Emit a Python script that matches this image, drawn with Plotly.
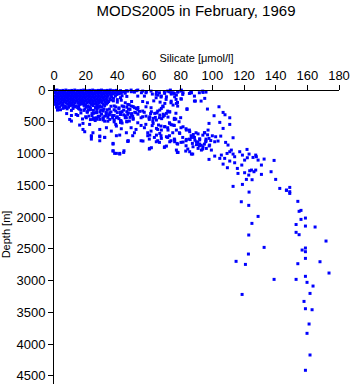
import plotly.graph_objects as go

# ---- Data (Silicate [umol/l], Depth [m]) ----
# Surface block (0-320 m)
surf_sil = [0.3, 1.9, 3.8, 5.6, 7.5, 9.4, 11.2, 13.1, 15.0, 16.9, 18.7, 20.6, 22.5, 24.4, 26.2, 28.1, 30.0, 31.9, 33.7, 35.6, 37.5, 39.4,
            0.8, 2.7, 4.6, 6.5, 8.4, 10.3, 12.1, 14.0, 15.9, 17.8, 19.6, 21.5, 23.4, 25.3, 27.1, 29.0, 30.9, 32.8, 34.6, 36.5, 38.4, 40.3, 42.5,
            0.4, 2.3, 4.2, 6.1, 7.9, 9.8, 11.7, 13.6, 15.4, 17.3, 19.2, 21.1, 22.9, 24.8, 26.7, 28.6, 30.4, 32.3, 34.2, 36.1, 38.8,
            0.9, 2.8, 4.7, 6.6, 8.5, 10.4, 12.2, 14.1, 16.0, 17.9, 19.7, 21.6, 23.5, 25.4, 27.2, 29.1, 31.0, 32.9, 35.3, 37.6,
            0.5, 2.4, 4.3, 6.2, 8.0, 9.9, 11.8, 13.7, 15.5, 17.4, 19.3, 21.2, 23.0, 24.9, 26.8, 28.7, 30.5, 32.4, 34.5,
            1.0, 2.9, 4.8, 8.6, 10.5, 12.3, 16.2, 18.0, 19.9, 23.7, 25.5, 27.4, 31.2, 33.1,
            1.6, 3.5, 7.3, 9.2, 13.0, 14.9, 20.5, 22.4, 26.2, 28.1, 30.0,
            2.2, 4.1, 11.0, 17.0, 21.8, 24.9, 29.5, 33.5]
surf_dep = [5, 0, 10, 5, 0, 10, 5, 0, 10, 5, 0, 10, 5, 0, 10, 5, 0, 10, 5, 0, 10, 5,
            40, 50, 45, 40, 50, 45, 40, 50, 45, 40, 50, 45, 40, 50, 45, 40, 50, 45, 40, 50, 45, 40, 50,
            90, 85, 95, 90, 85, 95, 90, 85, 95, 90, 85, 95, 90, 85, 95, 90, 85, 95, 90, 85, 95,
            135, 130, 140, 135, 130, 140, 135, 130, 140, 135, 130, 140, 135, 130, 140, 135, 130, 140, 135, 130,
            180, 175, 185, 180, 175, 185, 180, 175, 185, 180, 175, 185, 180, 175, 185, 180, 175, 185, 180,
            225, 220, 230, 225, 220, 230, 225, 220, 230, 225, 220, 230, 225, 220,
            270, 265, 275, 270, 265, 275, 270, 265, 275, 270, 265,
            315, 310, 320, 315, 310, 320, 315, 310]

# Surface block, intermediate depths
surf2_sil = [1.2, 3.1, 5.0, 6.9, 8.8, 10.7, 12.6, 14.5, 16.3, 18.2, 20.1, 22.0, 23.9, 25.8, 27.6, 29.5, 31.4, 33.3, 35.2, 37.1, 41.5, 44.0,
             1.6, 3.5, 5.4, 7.3, 9.2, 11.1, 13.0, 14.8, 16.7, 18.6, 20.5, 22.4, 24.3, 26.1, 28.0, 29.9, 31.8, 33.7, 35.6, 37.5, 39.6,
             1.4, 3.3, 5.2, 7.1, 9.0, 10.9, 12.8, 14.7, 16.6, 18.5, 20.4, 22.3, 24.1, 26.0, 27.9, 29.8, 31.7, 33.6, 36.4,
             1.2, 3.1, 5.0, 6.9, 8.8, 10.7, 12.6, 14.5, 16.4, 18.3, 20.2, 22.1, 24.0, 25.9, 27.8, 29.7, 31.6, 33.5, 36.0,
             1.8, 3.7, 5.6, 7.5, 9.4, 11.3, 13.2, 15.1, 17.0, 18.9, 20.8, 22.7, 24.6, 26.5, 28.4, 30.3, 33.8,
             2.0, 5.5, 7.0, 9.8, 11.7, 14.0, 15.6, 19.0, 21.5, 24.5, 27.0, 29.0, 32.0,
             2.5, 5.8, 8.3, 12.0, 15.5, 19.5, 23.0, 27.3, 31.5]
surf2_dep = [22, 20, 25, 22, 20, 25, 22, 20, 25, 22, 20, 25, 22, 20, 25, 22, 20, 25, 22, 20, 25, 22,
             65, 62, 68, 65, 62, 68, 65, 62, 68, 65, 62, 68, 65, 62, 68, 65, 62, 68, 65, 62, 68,
             110, 108, 114, 110, 108, 114, 110, 108, 114, 110, 108, 114, 110, 108, 114, 110, 108, 114, 110,
             155, 152, 158, 155, 152, 158, 155, 152, 158, 155, 152, 158, 155, 152, 158, 155, 152, 158, 155,
             200, 198, 204, 200, 198, 204, 200, 198, 204, 200, 198, 204, 200, 198, 204, 200, 198,
             245, 242, 250, 245, 242, 250, 245, 242, 250, 245, 242, 250, 245,
             290, 288, 295, 290, 288, 295, 290, 288, 295]

# Shallow, 35-60 umol/l
mid_sil = [40, 42, 44, 41, 43, 45, 42, 46, 40,
           45.7, 48.9, 52, 55.2, 58.3,
           37.5, 40, 42.5, 45, 47.5, 49, 38, 41, 44, 47, 39, 42, 46, 49, 37, 40, 44, 48, 38, 42, 46, 50, 43, 39]
mid_dep = [20, 10, 30, 60, 90, 50, 120, 100, 150,
           10, 26, 10, 42, 26,
           170, 190, 160, 200, 230, 180, 250, 280, 260, 300, 330, 350, 340, 370, 400, 420, 390, 430, 470, 480, 500, 460, 520, 540]

# Dense mass 15-55 umol/l, 250-560 m
mass_sil = [36, 39, 43, 46, 50, 53, 35, 38, 41, 44, 48, 52, 36, 40, 43, 47, 51, 54, 35, 38, 42, 45, 49, 53,
            37, 41, 45, 50, 34, 38, 42, 46,
            16, 19, 23, 27, 31, 17, 21, 25, 29, 33, 15, 20, 24, 28, 32, 18, 23, 27, 31]
mass_dep = [255, 265, 250, 270, 260, 275, 300, 310, 295, 315, 305, 290, 345, 355, 340, 360, 350, 335, 390, 400, 385, 405, 395, 380,
            440, 450, 435, 445, 490, 500, 510, 495,
            300, 320, 310, 305, 315, 360, 350, 365, 345, 355, 400, 420, 405, 415, 410, 455, 465, 460, 470]

# 55-80 umol/l, 170-580 m
mass2_sil = [56, 59, 63, 67, 70, 74, 78, 57, 61, 65, 69, 73, 77, 56, 60, 64, 68, 72, 76, 80, 58, 62, 66, 70, 74]
mass2_dep = [180, 200, 170, 190, 210, 175, 195, 350, 370, 360, 380, 345, 365, 420, 440, 430, 450, 425, 445, 435, 540, 560, 550, 575, 545]

# 300-700 m, low silicate
low_sil = [21, 24, 27, 30, 33, 22, 25, 28, 31, 34, 26, 32, 8, 11, 14,
           9.9, 11, 18.3, 18.3, 24.6, 24.6, 26.8, 28.9, 31, 33.1, 35.2, 39.4, 42.5, 45.7, 28.9,
           33.1, 36.2, 39.4, 42.5, 45.7, 28.9, 22.5, 20.4, 35.2, 31, 26.8]
low_dep = [340, 370, 350, 380, 360, 410, 440, 420, 450, 430, 480, 490, 370, 400, 385,
           462, 488, 525, 620, 672, 462, 436, 410, 436, 399, 462, 436, 488, 436, 620,
           593, 646, 567, 609, 672, 462, 541, 436, 357, 331, 357]

# 550-1010 m, low/mid silicate
lm_sil = [16.2, 19.4, 23.6, 28.9, 32, 37.3, 46.8, 56.2, 60.4, 64.6, 71, 76.2, 77.3, 78.3, 37.3, 38.3, 41.5, 44.2,
          23.6, 23.6, 28.9, 32, 28.9, 37.3, 39.4, 41.5, 46.8, 37.3, 39.4, 41.5, 44]
lm_dep = [551, 656, 735, 724, 745, 840, 803, 803, 919, 814, 882, 814, 945, 982, 961, 997, 1008, 956,
          719, 772, 735, 746, 798, 851, 719, 709, 798, 955, 997, 997, 982]

# 45-100 umol/l, 0-700 m
z6_sil = [46.6, 48.7, 50.8, 52.9, 56, 58.1, 61.3, 64.5, 66.6, 69.7, 71.8, 73.9, 76, 78.1, 80.2, 81.3, 85.5, 86.6, 88.7, 91.8, 93.9, 96,
          52.9, 57.1, 64.5, 67.6, 70.8, 73.9, 77.1, 80.2, 88.7, 92.9,
          46.6, 48.7, 50.8, 52.9, 56, 58.1, 61.3, 65.5, 68.7, 71.8, 78.1, 84,
          46.6, 49.7, 51.8, 55, 58.1, 60.2, 62.4, 66.6, 69.7, 76, 72.9, 47.6, 52.9,
          48.7, 51.8, 55, 57.1, 61.3, 65.5, 67.6, 71.8, 76, 80.2, 83.4, 85.5, 89.7, 95, 79.2, 75, 59.2, 50.8]
z6_dep = [16, 0, 32, 0, 16, 42, 16, 68, 42, 32, 16, 42, 53, 32, 16, 68, 53, 42, 95, 42, 16, 32,
          95, 95, 121, 110, 147, 200, 147, 137, 173, 173,
          226, 252, 278, 305, 331, 263, 278, 331, 252, 331, 252, 294,
          383, 410, 357, 436, 410, 462, 488, 436, 399, 462, 515, 488, 515,
          593, 620, 557, 593, 646, 620, 567, 593, 557, 593, 609, 630, 672, 672, 672, 672, 672, 672]

# 45-100 umol/l, 700-1010 m
z8_sil = [49.7, 55, 59.2, 60.2, 63.4, 65.5, 67.6, 66.6, 71.8, 73.9, 72.9, 76, 78.1, 80.2, 81.3, 83.4,
          85.5, 86.6, 88.7, 90.8, 91.8, 93.9, 95, 96, 83.4, 84.5, 78.1, 87.6, 69.7, 60.2, 46.6,
          88, 91, 94, 97, 100, 86, 89, 92, 96, 99, 90, 93, 98]
z8_dep = [719, 798, 719, 772, 746, 798, 719, 824, 746, 798, 719, 772, 851, 824, 746, 798,
          772, 719, 746, 824, 877, 929, 851, 772, 877, 929, 982, 1008, 903, 929, 809,
          700, 690, 710, 705, 720, 780, 790, 785, 800, 795, 860, 870, 880]

# 60-115 umol/l, 0-1000 m
c_top_sil = [62.1, 64.7, 65.7, 67.8, 69.9, 71, 72.7, 74.1, 75.2, 76.2, 77.3, 73.5, 78.3, 80.4, 81.5, 86.4, 86.8, 94.1, 95.2, 89.3,
             80.4, 77.3, 75.2, 68.9, 67.8, 66.8]
c_top_dep = [63, 26, 79, 94, 52, 105, 26, 63, 42, 105, 79, 0, 26, 0, 42, 26, 42, 37, 131, 173,
             142, 210, 236, 263, 289, 315]
c_right_sil = [104.2, 84, 96.9, 106.8, 101.1, 108, 111, 104.7, 111, 106.8, 97.9]
c_right_dep = [263, 305, 299, 352, 404, 389, 436, 509, 541, 604, 525]
c_left_sil = [61.5, 63.6, 60.5, 62.6, 64.7, 66.8, 68.9, 71, 73.1, 76.9, 79, 73.1, 75.2, 69.9, 72, 67.8, 64.7, 62.6,
              81.5, 83.6, 85.7, 77.3, 79.4, 66.8]
c_left_dep = [341, 367, 420, 446, 472, 394, 420, 367, 341, 457, 499, 525, 551, 578, 630, 630, 604, 525,
              578, 630, 656, 630, 683, 683]
c_mid_sil = [95.2, 97.3, 102.1, 105.3, 113.1, 101.5, 108.4, 109.9, 103.6, 97.9, 95.8, 92]
c_mid_dep = [672, 630, 735, 725, 751, 814, 824, 866, 803, 761, 814, 767]
c_band_sil = [60.5, 64.7, 67.8, 71, 73.1, 76.2, 77.7, 81.5, 83.6, 86.8, 87.4, 89.9, 92, 94.1, 96.2, 98.3, 99.4, 93.1,
              91, 87.8, 85.7, 83.2, 77.9, 69.9, 61.5]
c_band_dep = [709, 709, 761, 735, 814, 787, 840, 819, 777, 746, 840, 814, 851, 893, 919, 866, 945, 945,
              919, 893, 971, 961, 982, 893, 908]

# 1000-1650 m
k_sil = [86.8, 97.9, 101.5, 104.7, 105.7, 107.8, 109.3, 111, 112, 113.1, 114.1, 117.3, 119, 121.9, 123.2,
         106.8, 109.5, 111, 114.1, 115.8, 118.6, 120.4, 122.1, 125.7, 127.4, 127.8, 128.9, 131, 132.7, 139,
         116.2, 120.4, 123, 123.6, 124.7, 126.3, 127.4, 131, 137.1, 140, 121.5, 125.1, 113.1, 119, 123.2,
         142.6, 148.9, 146.8, 148.9, 146.8, 148.9]
k_dep = [1008, 1092, 1040, 1076, 1024, 1076, 998, 971, 945, 1008, 1050, 971, 1024, 935, 1008,
         1166, 1223, 1118, 1145, 1234, 1181, 1103, 1066, 1061, 1024, 1050, 1103, 1181, 1087, 1108,
         1313, 1302, 1339, 1271, 1260, 1286, 1260, 1328, 1286, 1407, 1407, 1412, 1517, 1486, 1607,
         1549, 1533, 1575, 1628, 1580, 1601]

# Deep water (> 1700 m)
deep_sil = [118.3, 123, 154, 156, 154.8, 128.9, 158.8, 156, 125, 152.9, 158.8, 164.9, 123, 152.9, 154.8, 171.8,
            132.7, 158.8, 156.7, 158.8, 122.8, 158.8, 115, 168, 120.9, 154, 173.7, 158.8, 139, 152.9, 159.8,
            163.6, 161.7, 118.8, 157.9, 158.8, 163, 161.1, 159.8, 161.7, 158.8]
deep_dep = [1759, 1816, 1753, 1895, 1910, 1990, 2016, 2037, 2100, 2118, 2142, 2157, 2283, 2241, 2278, 2378,
            2478, 2488, 2520, 2546, 2583, 2651, 2698, 2704, 2746, 2735, 2882, 2934, 2982, 2982, 3029,
            3087, 3203, 3219, 3329, 3444, 3460, 3685, 3832, 4173, 4414]

x_ticks = [0, 20, 40, 60, 80, 100, 120, 140, 160, 180]
y_ticks = [0, 500, 1000, 1500, 2000, 2500, 3000, 3500, 4000, 4500]

sil_groups = [surf_sil, surf2_sil, mid_sil, mass_sil, mass2_sil, low_sil, lm_sil, z6_sil, z8_sil,
              c_top_sil, c_right_sil, c_left_sil, c_mid_sil, c_band_sil, k_sil, deep_sil]
dep_groups = [surf_dep, surf2_dep, mid_dep, mass_dep, mass2_dep, low_dep, lm_dep, z6_dep, z8_dep,
              c_top_dep, c_right_dep, c_left_dep, c_mid_dep, c_band_dep, k_dep, deep_dep]
silicate, depth = [], []
for i, (s, d) in enumerate(zip(sil_groups, dep_groups)):
    assert len(s) == len(d), (i, len(s), len(d))
    silicate += s
    depth += d

FONT = "Liberation Sans, Arial, Helvetica, sans-serif"

fig = go.Figure(go.Scatter(
    x=silicate, y=depth, mode="markers",
    marker=dict(symbol="square", size=3, color="#0000ff", line=dict(width=0)),
    cliponaxis=False, hoverinfo="skip"))

fig.update_layout(
    width=351, height=384,
    margin=dict(l=54, r=12, t=85, b=0),
    paper_bgcolor="white", plot_bgcolor="white",
    showlegend=False,
    font=dict(family=FONT, color="black", size=13),
    title=dict(text="MODS2005 in February, 1969", x=196 / 351, xanchor="center",
               y=1 - 11 / 384, yanchor="middle", font=dict(size=15, family=FONT, color="black")),
    xaxis=dict(range=[0, 180], side="top", anchor="free", position=1 - 80 / 4710,
               tickvals=x_ticks, ticks="outside", ticklen=5, tickwidth=1, tickcolor="black",
               showline=True, linecolor="black", linewidth=1, showgrid=False, zeroline=False,
               tickfont=dict(size=13),
               title=dict(text="Silicate [μmol/l]", font=dict(size=11), standoff=2)),
    yaxis=dict(range=[4630, -80], tickvals=y_ticks, ticks="outside", ticklen=5, tickwidth=1,
               tickcolor="black", showline=True, linecolor="black", linewidth=1,
               showgrid=False, zeroline=False, tickfont=dict(size=13),
               title=dict(text="Depth [m]", font=dict(size=11), standoff=4)),
)

fig.write_html("out.html")
